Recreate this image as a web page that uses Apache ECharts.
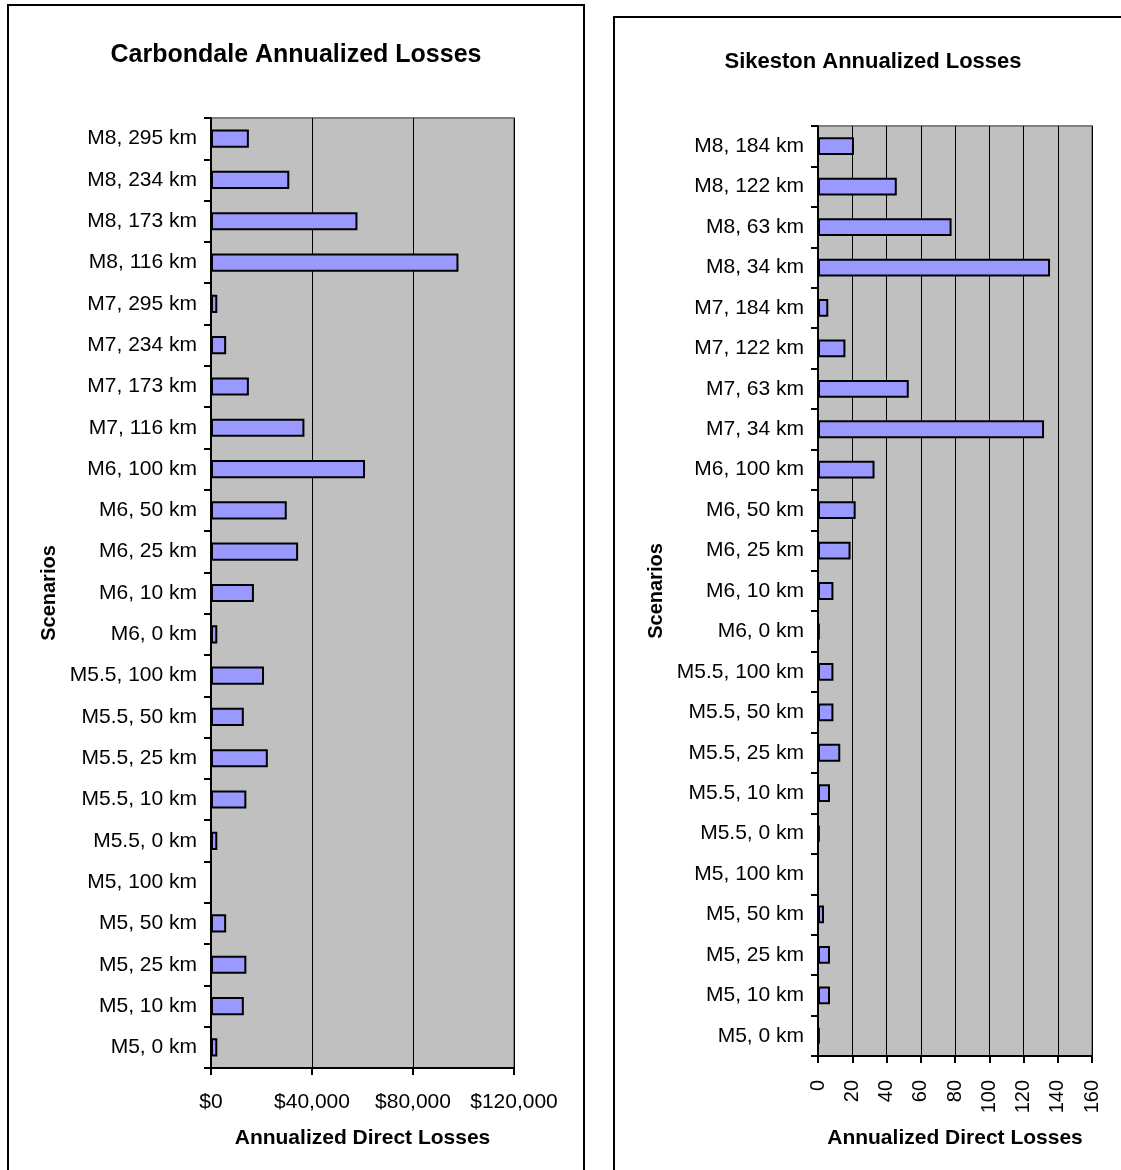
<!DOCTYPE html>
<html>
<head>
<meta charset="utf-8">
<script src="https://cdn.jsdelivr.net/npm/echarts@6/dist/echarts.min.js"></script>
<style>
  html, body { margin: 0; padding: 0; background: #ffffff; }
  #chart { width: 1121px; height: 1170px; }
</style>
</head>
<body>
<div id="chart"></div>
<script>
// Scenario rows, listed top to bottom as they appear on each panel
const carbondaleScenarios = [
  'M8, 295 km', 'M8, 234 km', 'M8, 173 km', 'M8, 116 km',
  'M7, 295 km', 'M7, 234 km', 'M7, 173 km', 'M7, 116 km',
  'M6, 100 km', 'M6, 50 km', 'M6, 25 km', 'M6, 10 km', 'M6, 0 km',
  'M5.5, 100 km', 'M5.5, 50 km', 'M5.5, 25 km', 'M5.5, 10 km', 'M5.5, 0 km',
  'M5, 100 km', 'M5, 50 km', 'M5, 25 km', 'M5, 10 km', 'M5, 0 km'
];
// Annualized direct losses in dollars
const carbondaleLosses = [
  15000, 31000, 58000, 98000,
  2500, 6000, 15000, 37000,
  61000, 30000, 34500, 17000, 2500,
  21000, 13000, 22500, 14000, 2500,
  0, 6000, 14000, 13000, 2500
];
const carbondaleTicks = [0, 40000, 80000, 120000];

const sikestonScenarios = [
  'M8, 184 km', 'M8, 122 km', 'M8, 63 km', 'M8, 34 km',
  'M7, 184 km', 'M7, 122 km', 'M7, 63 km', 'M7, 34 km',
  'M6, 100 km', 'M6, 50 km', 'M6, 25 km', 'M6, 10 km', 'M6, 0 km',
  'M5.5, 100 km', 'M5.5, 50 km', 'M5.5, 25 km', 'M5.5, 10 km', 'M5.5, 0 km',
  'M5, 100 km', 'M5, 50 km', 'M5, 25 km', 'M5, 10 km', 'M5, 0 km'
];
const sikestonLosses = [
  21, 46, 78, 135.5,
  6, 16, 53, 132,
  33, 22, 19, 9, 1,
  9, 9, 13, 7, 1,
  0, 3.5, 7, 7, 1
];
const sikestonTicks = [0, 20, 40, 60, 80, 100, 120, 140, 160];

const FONT = '"Liberation Sans", Arial, Helvetica, sans-serif';

function money(v) {
  return '$' + String(v).replace(/\B(?=(\d{3})+(?!\d))/g, ',');
}

function valueAxis(gridIndex, ticks, extra) {
  return Object.assign({
    type: 'value',
    gridIndex: gridIndex,
    min: ticks[0],
    max: ticks[ticks.length - 1],
    interval: ticks[1] - ticks[0],
    name: 'Annualized Direct Losses',
    nameLocation: 'middle',
    nameTextStyle: { fontFamily: FONT, fontSize: 21, fontWeight: 'bold', color: '#000' },
    axisLine: { show: true, lineStyle: { color: '#000', width: 2 } },
    axisTick: { show: true, length: 7, lineStyle: { color: '#000', width: 2 } },
    splitLine: { show: true, lineStyle: { color: '#000', width: 1 } },
    axisLabel: { fontFamily: FONT, fontSize: 21, color: '#000' }
  }, extra);
}

function categoryAxis(gridIndex, cats) {
  return {
    type: 'category',
    gridIndex: gridIndex,
    data: cats,
    inverse: true,
    name: 'Scenarios',
    nameLocation: 'middle',
    nameGap: 152,
    nameTextStyle: { fontFamily: FONT, fontSize: 20, fontWeight: 'bold', color: '#000' },
    axisLine: { show: true, lineStyle: { color: '#000', width: 2 } },
    axisTick: { show: true, length: 7, alignWithLabel: false, lineStyle: { color: '#000', width: 2 } },
    axisLabel: { fontFamily: FONT, fontSize: 21, color: '#000', margin: 14, interval: 0,
      padding: [9, 0, 0, 0] },
    splitLine: { show: false }
  };
}

function barSeries(axisIndex, values) {
  return {
    type: 'bar',
    xAxisIndex: axisIndex,
    yAxisIndex: axisIndex,
    data: values,
    barCategoryGap: '56%',
    itemStyle: { color: '#9999FF', borderColor: '#000', borderWidth: 2 },
    silent: true
  };
}

const chart = echarts.init(document.getElementById('chart'), null, { renderer: 'canvas' });

chart.setOption({
  animation: false,
  backgroundColor: '#ffffff',
  title: [
    {
      text: 'Carbondale Annualized Losses',
      left: 291, top: 38, textAlign: 'center',
      textStyle: { fontFamily: FONT, fontSize: 25, fontWeight: 'bold', color: '#000' }
    },
    {
      text: 'Sikeston Annualized Losses',
      left: 868, top: 46, textAlign: 'center',
      textStyle: { fontFamily: FONT, fontSize: 22, fontWeight: 'bold', color: '#000' }
    }
  ],
  grid: [
    { left: 211, top: 118, width: 303, height: 950, show: true,
      backgroundColor: '#C0C0C0', borderColor: '#808080', borderWidth: 2 },
    { left: 818, top: 126, width: 274, height: 930, show: true,
      backgroundColor: '#C0C0C0', borderColor: '#808080', borderWidth: 2 }
  ],
  xAxis: [
    valueAxis(0, carbondaleTicks, {
      nameGap: 60,
      axisLabel: { fontFamily: FONT, fontSize: 21, color: '#000', margin: 24,
        formatter: money }
    }),
    valueAxis(1, sikestonTicks, {
      nameGap: 72,
      axisLabel: { fontFamily: FONT, fontSize: 20, color: '#000', margin: 24, rotate: 90 }
    })
  ],
  yAxis: [
    categoryAxis(0, carbondaleScenarios),
    categoryAxis(1, sikestonScenarios)
  ],
  series: [
    barSeries(0, carbondaleLosses),
    barSeries(1, sikestonLosses)
  ],
  graphic: [
    { type: 'rect', silent: true, z: 100,
      shape: { x: 8, y: 5, width: 576, height: 1200 },
      style: { fill: null, stroke: '#000', lineWidth: 2 } },
    { type: 'rect', silent: true, z: 100,
      shape: { x: 614, y: 17, width: 620, height: 1200 },
      style: { fill: null, stroke: '#000', lineWidth: 2 } }
  ]
});
</script>
</body>
</html>
